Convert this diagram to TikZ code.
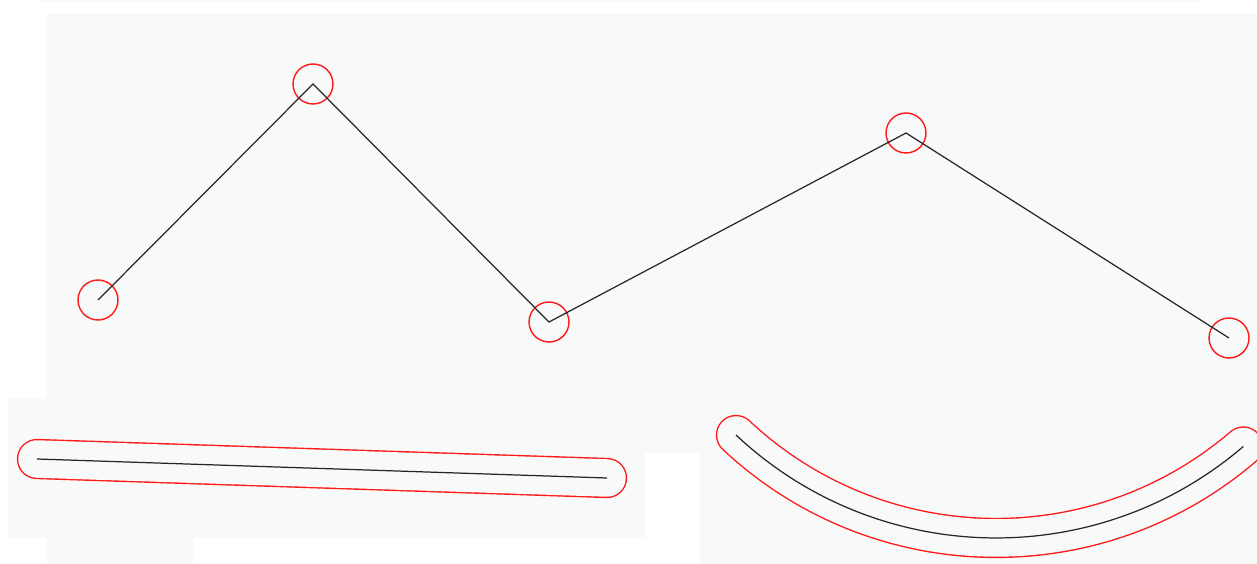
\documentclass[tikz,border=0pt]{standalone}
\usepackage{tikz}
\usepackage{xcolor}
\usetikzlibrary{positioning}
\definecolor{paper}{HTML}{F8F9F9}
\definecolor{halored}{HTML}{FF1A1A}
\definecolor{ink}{HTML}{262626}

\begin{document}
\begin{tikzpicture}[x=0.02cm, y=-0.02cm,
    bg/.style={fill=paper, draw=none},
    wire/.style={draw=ink, line width=0.7pt, line join=miter},
    ring/.style={circle, draw=halored, line width=0.8pt, minimum size=0.8cm, inner sep=0pt},
    halo/.style={draw=halored, line width=0.8pt, double=paper, double distance=0.75cm, line cap=round}
]
    \useasboundingbox (0,0) rectangle (1257,564);

    % Background panels
    \fill[bg] (40,0) rectangle (1202,2);
    \fill[bg] (47,13) rectangle (1257,453);
    \fill[bg] (8,399) rectangle (645,538);
    \fill[bg] (47,538) rectangle (193,564);
    \fill[bg] (700,453) rectangle (1257,564);

    % Polyline vertices
    \node[ring] (p1) at (98,300) {};
    \node[ring] (p2) at (313,84) {};
    \node[ring] (p3) at (549,322) {};
    \node[ring] (p4) at (906,133) {};
    \node[ring] (p5) at (1229,338) {};

    % Polyline
    \draw[wire] (p1.center) -- (p2.center) -- (p3.center) -- (p4.center) -- (p5.center);

    % Straight segment with buffer
    \coordinate (a1) at (37,459);
    \coordinate (a2) at (607,478);
    \draw[halo] (a1) -- (a2);
    \draw[wire] (a1) -- (a2);

    % Curved segment with buffer
    \coordinate (b1) at (736,435);
    \draw[halo] (b1) arc[start angle=-133.2, end angle=-49.4, radius=7.6cm];
    \draw[wire] (b1) arc[start angle=-133.2, end angle=-49.4, radius=7.6cm];

\end{tikzpicture}
\end{document}
